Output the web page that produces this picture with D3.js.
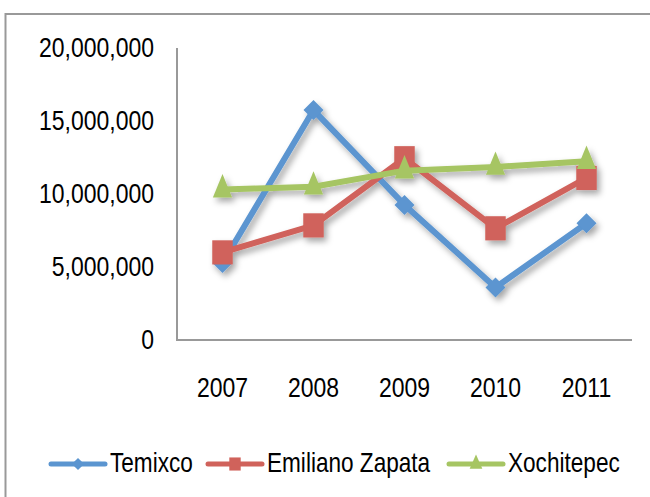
<!DOCTYPE html>
<html>
<head>
<meta charset="utf-8">
<script src="https://cdn.jsdelivr.net/npm/d3@7"></script>
<style>
  body { margin: 0; background: #fff; }
  svg { display: block; font-family: "Liberation Sans", Arial, sans-serif; }
</style>
</head>
<body>
<svg id="chart"></svg>
<script>
const years = ['2007', '2008', '2009', '2010', '2011'];
const temixco = [5270000, 15750000, 9250000, 3600000, 8000000];
const zapata = [6000000, 7850000, 12450000, 7650000, 11100000];
const xochitepec = [10300000, 10500000, 11600000, 11850000, 12250000];
const yTicks = [0, 5000000, 10000000, 15000000, 20000000];

const series = [
  { name: 'Temixco', values: temixco, color: '#5b95d0', shape: 'diamond' },
  { name: 'Emiliano Zapata', values: zapata, color: '#d0625b', shape: 'square' },
  { name: 'Xochitepec', values: xochitepec, color: '#a6c563', shape: 'triangle' }
];

const W = 650, H = 497;
const plotL = 177, plotR = 632, plotT = 48, plotB = 340;
const stretch = 1.22; // text in the reference is drawn a bit taller than wide

const svg = d3.select('#chart').attr('width', W).attr('height', H);

// drop shadow for lines + markers
const defs = svg.append('defs');
const f = defs.append('filter').attr('id', 'shadow')
  .attr('x', '-20%').attr('y', '-20%').attr('width', '140%').attr('height', '140%');
f.append('feDropShadow').attr('dx', 3).attr('dy', 4).attr('stdDeviation', 3)
  .attr('flood-color', '#000').attr('flood-opacity', 0.35);

// outer frame
svg.append('rect').attr('x', 5.5).attr('y', 14).attr('width', 660).attr('height', 500)
  .attr('fill', 'none').attr('stroke', '#999').attr('stroke-width', 2);

const x = d3.scaleBand().domain(years).range([plotL, plotR]);
const y = d3.scaleLinear().domain([0, 20000000]).range([plotB, plotT]);
const fmt = d3.format(',');

// axes lines
svg.append('line').attr('x1', plotL).attr('x2', plotL).attr('y1', plotT).attr('y2', plotB)
  .attr('stroke', '#999').attr('stroke-width', 2);
svg.append('line').attr('x1', plotL - 1).attr('x2', plotR).attr('y1', plotB).attr('y2', plotB)
  .attr('stroke', '#999').attr('stroke-width', 2);

// y tick labels
svg.append('g').selectAll('text').data(yTicks).join('text')
  .attr('transform', d => `translate(154,${y(d) + 8.5}) scale(1,${stretch})`)
  .attr('text-anchor', 'end')
  .attr('font-size', 23)
  .attr('fill', '#000')
  .text(d => fmt(d));

// x tick labels
svg.append('g').selectAll('text').data(years).join('text')
  .attr('transform', d => `translate(${x(d) + x.bandwidth() / 2},${397}) scale(1,${stretch})`)
  .attr('text-anchor', 'middle')
  .attr('font-size', 23)
  .attr('fill', '#000')
  .text(d => d);

function symbolPath(shape, big) {
  if (shape === 'diamond') return d3.symbol(d3.symbolSquare, big ? 200 : 75)();
  if (shape === 'square') return d3.symbol(d3.symbolSquare, big ? 420 : 130)();
  return d3.symbol(d3.symbolTriangle, big ? 160 : 70)();
}
function symbolXf(shape, big) {
  if (shape === 'diamond') return 'rotate(45)';
  if (shape === 'square') return `scale(1,${big ? 1.18 : 1.15})`;
  return `scale(1,${big ? 1.4 : 1.3})`;
}

const line = d3.line().x((d, i) => x(years[i]) + x.bandwidth() / 2).y(d => y(d));

const plot = svg.append('g').attr('filter', 'url(#shadow)');
series.forEach(s => {
  const g = plot.append('g');
  g.append('path').datum(s.values).attr('d', line)
    .attr('fill', 'none').attr('stroke', s.color).attr('stroke-width', 6)
    .attr('stroke-linejoin', 'round');
  g.selectAll('path.m').data(s.values).join('path').attr('class', 'm')
    .attr('transform', (d, i) => `translate(${x(years[i]) + x.bandwidth() / 2},${y(d)}) ${symbolXf(s.shape, true)}`)
    .attr('d', symbolPath(s.shape, true))
    .attr('fill', s.color);
});

// legend
const legendX = [51, 208, 449];
const ly = 464;
const leg = svg.append('g').selectAll('g').data(series).join('g')
  .attr('transform', (d, i) => `translate(${legendX[i]},${ly})`);
leg.append('line').attr('x1', 0).attr('x2', 54).attr('y1', 0).attr('y2', 0)
  .attr('stroke', d => d.color).attr('stroke-width', 5).attr('stroke-linecap', 'round');
leg.append('path')
  .attr('transform', d => `translate(27,0) ${symbolXf(d.shape, false)}`)
  .attr('d', d => symbolPath(d.shape, false))
  .attr('fill', d => d.color);
leg.append('text')
  .attr('transform', `translate(59,7.5) scale(1,${stretch})`)
  .attr('font-size', 22.6)
  .attr('fill', '#000')
  .text(d => d.name);
</script>
</body>
</html>
